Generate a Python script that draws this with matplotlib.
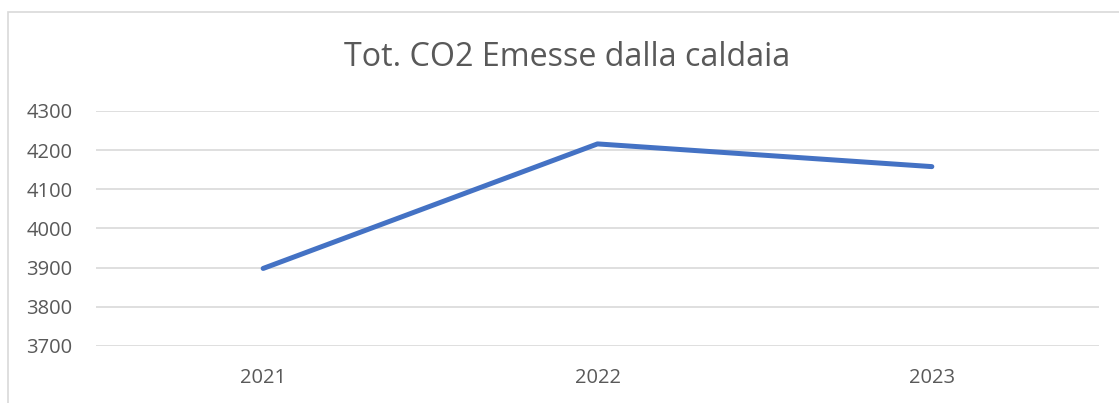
import matplotlib
matplotlib.use("Agg")
import matplotlib.pyplot as plt
from matplotlib.patches import Rectangle

years = ["2021", "2022", "2023"]
co2 = [3898, 4216, 4158]
y_ticks = [3700, 3800, 3900, 4000, 4100, 4200, 4300]

W, H = 1119, 403
fig = plt.figure(figsize=(W / 100, H / 100), dpi=100, facecolor="white")
plt.rcParams["font.family"] = ["Open Sans", "DejaVu Sans"]

# plot area in pixels: x 96..1099, y 111..346
ax = fig.add_axes([96 / W, 1 - 346 / H, (1099 - 96) / W, (346 - 111) / H])
ax.set_facecolor("white")

# chart frame (cropped on right and bottom)
fig.patches.append(Rectangle((8 / W, -0.1), 1.2, 1 - 12 / H + 0.1,
                             transform=fig.transFigure, fill=False,
                             edgecolor="#D9D9D9", linewidth=1.2))

ax.plot(range(len(years)), co2, color="#4472C4", linewidth=3.6,
        solid_capstyle="round", solid_joinstyle="round", zorder=3)

ax.set_xlim(-0.5, len(years) - 0.5)
ax.set_ylim(3700, 4300)
ax.set_yticks(y_ticks)
ax.set_xticks(range(len(years)))
ax.set_xticklabels(years)
ax.grid(axis="y", color="#D9D9D9", linewidth=1.2)
ax.set_axisbelow(True)
for s in ax.spines.values():
    s.set_visible(False)
ax.tick_params(length=0, labelsize=14.5, labelcolor="#595959")
ax.tick_params(axis="y", pad=17)
ax.tick_params(axis="x", pad=16)

fig.text(567 / W, 1 - 57 / H, "Tot. CO2 Emesse dalla caldaia", ha="center",
         va="center", fontsize=23.2, color="#595959")

fig.savefig("out.png", dpi=100, facecolor="white")
